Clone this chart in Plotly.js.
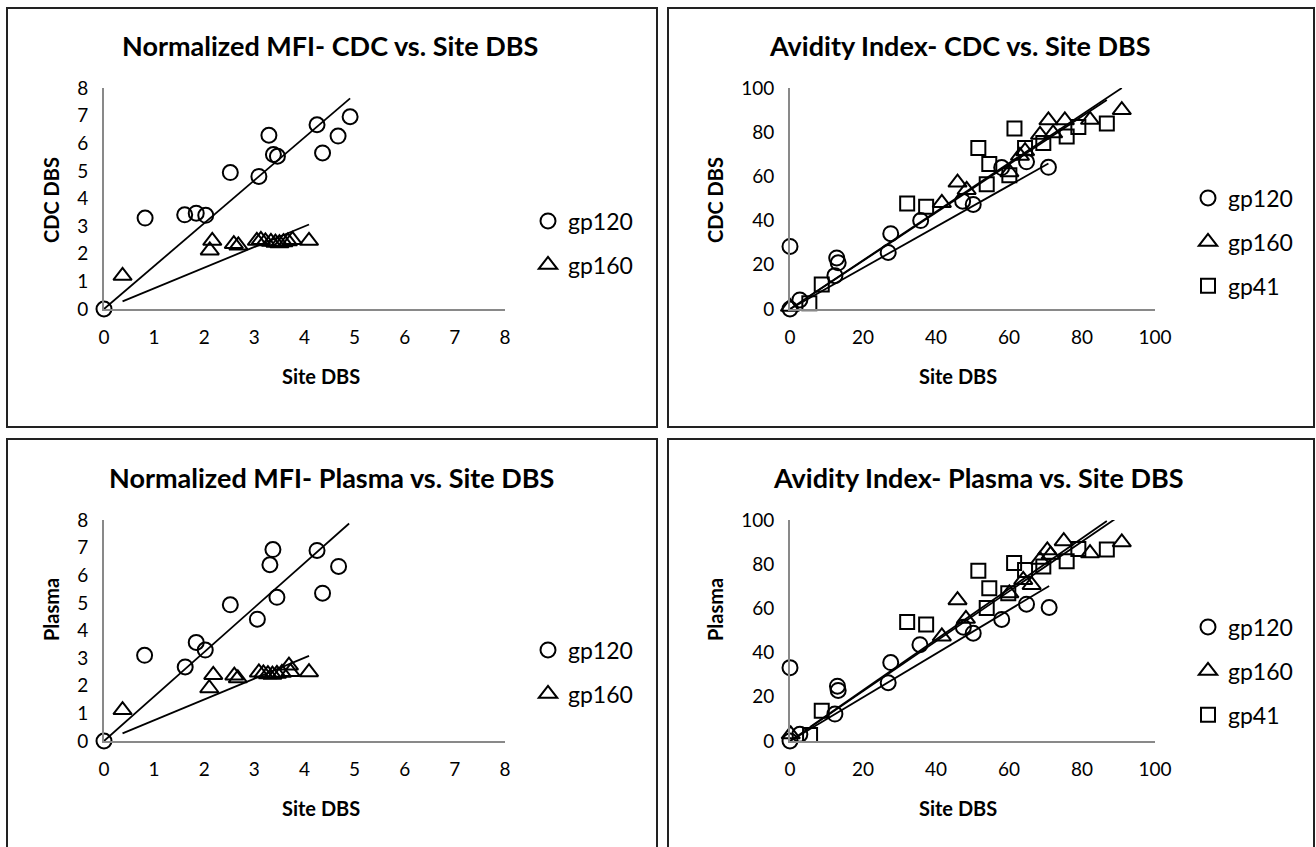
<!DOCTYPE html>
<html>
<head>
<meta charset="utf-8">
<script src="https://cdn.plot.ly/plotly-3.0.1.min.js"></script>
<style>
html,body{margin:0;padding:0;background:#fff;}
#chart{width:1316px;height:847px;}
</style>
</head>
<body>
<div id="chart"></div>
<script>
// ---------- Data ----------
// Panel 1: Normalized MFI - CDC vs. Site DBS
const mfiCdcGp120X = [0, 0.82, 1.61, 1.84, 2.03, 2.52, 3.09, 3.29, 3.38, 3.46, 4.25, 4.36, 4.67, 4.91];
const mfiCdcGp120Y = [0, 3.29, 3.41, 3.47, 3.39, 4.94, 4.80, 6.29, 5.59, 5.53, 6.67, 5.65, 6.26, 6.96];
const mfiCdcGp160X = [0.37, 2.11, 2.16, 2.59, 2.68, 3.05, 3.13, 3.22, 3.33, 3.42, 3.50, 3.58, 3.67, 3.76, 4.09];
const mfiCdcGp160Y = [1.20, 2.12, 2.47, 2.35, 2.30, 2.47, 2.50, 2.45, 2.43, 2.40, 2.38, 2.42, 2.45, 2.50, 2.47];
const mfiCdcFitStart = [0, 0.37];
const mfiCdcFitEnd = [4.91, 4.09];
const mfiCdcFitSlope = [1.553, 0.748];

// Panel 2: Avidity Index - CDC vs. Site DBS
const avCdcGp120X = [0, 0, 2.7, 12.3, 12.8, 13.2, 26.9, 27.6, 35.8, 47.3, 50.2, 58.0, 64.8, 70.8];
const avCdcGp120Y = [28.3, 0, 4.1, 15.1, 23.1, 20.9, 25.6, 34.1, 40.0, 48.8, 47.3, 64.0, 66.6, 64.1];
const avCdcGp160X = [0, 41.6, 45.9, 48.4, 60.1, 63.0, 64.4, 68.5, 70.8, 72.1, 75.3, 82.2, 90.9];
const avCdcGp160Y = [1.0, 48.0, 57.2, 53.9, 61.9, 69.3, 71.4, 78.8, 85.4, 79.5, 85.4, 85.6, 90.0];
const avCdcGp41X = [5.3, 8.7, 32.1, 37.3, 51.6, 54.6, 53.9, 60.1, 61.5, 64.4, 69.4, 75.8, 79.0, 86.8];
const avCdcGp41Y = [2.6, 11.1, 47.7, 46.3, 72.9, 65.6, 56.5, 60.5, 81.7, 72.9, 75.1, 78.0, 82.4, 83.9];
const avCdcFitStart = [0, 0, 5.3];
const avCdcFitEnd = [70.8, 90.9, 86.8];
const avCdcFitSlope = [0.93, 1.10, 1.09];

// Panel 3: Normalized MFI - Plasma vs. Site DBS
const mfiPlGp120X = [0, 0.81, 1.62, 1.84, 2.02, 2.52, 3.06, 3.31, 3.37, 3.45, 4.25, 4.36, 4.68];
const mfiPlGp120Y = [0, 3.10, 2.68, 3.57, 3.29, 4.93, 4.41, 6.38, 6.93, 5.20, 6.90, 5.35, 6.32];
const mfiPlGp160X = [0.37, 2.10, 2.18, 2.60, 2.67, 3.09, 3.18, 3.27, 3.36, 3.45, 3.55, 3.69, 3.72, 4.09];
const mfiPlGp160Y = [1.12, 1.91, 2.39, 2.37, 2.27, 2.48, 2.45, 2.42, 2.40, 2.43, 2.47, 2.73, 2.50, 2.49];
const mfiPlFitStart = [0, 0.37];
const mfiPlFitEnd = [4.89, 4.09];
const mfiPlFitSlope = [1.61, 0.753];

// Panel 4: Avidity Index - Plasma vs. Site DBS
const avPlGp120X = [0, 0, 2.7, 12.3, 13.0, 13.2, 26.9, 27.6, 35.6, 47.5, 50.2, 58.0, 64.8, 71.0];
const avPlGp120Y = [33.2, 0, 3.0, 12.2, 24.8, 22.9, 26.4, 35.5, 43.6, 51.5, 48.8, 55.0, 61.9, 60.4];
const avPlGp160X = [0.2, 41.6, 45.9, 48.2, 60.1, 63.9, 66.2, 68.5, 70.5, 71.4, 75.0, 82.2, 90.9];
const avPlGp160Y = [3.0, 47.3, 63.7, 55.3, 66.8, 72.9, 70.6, 82.0, 86.3, 84.3, 90.4, 85.0, 89.9];
const avPlGp41X = [5.5, 8.7, 32.1, 37.3, 51.6, 54.6, 53.9, 59.8, 61.4, 64.4, 69.4, 75.8, 79.0, 86.8];
const avPlGp41Y = [2.7, 13.7, 53.8, 52.7, 77.0, 69.1, 60.2, 66.8, 80.5, 77.4, 79.0, 81.3, 86.9, 86.6];
const avPlFitStart = [0, 0, 5.5];
const avPlFitEnd = [71.0, 90.9, 86.8];
const avPlFitSlope = [0.988, 1.128, 1.147];

const seriesNames = ['gp120', 'gp160', 'gp41'];
const panelTitles = ['Normalized MFI- CDC vs. Site DBS', 'Avidity Index- CDC vs. Site DBS',
                     'Normalized MFI- Plasma vs. Site DBS', 'Avidity Index- Plasma vs. Site DBS'];
const xTitles = ['Site DBS', 'Site DBS', 'Site DBS', 'Site DBS'];
const yTitles = ['CDC DBS', 'CDC DBS', 'Plasma', 'Plasma'];
const mfiTicks = [0, 1, 2, 3, 4, 5, 6, 7, 8];
const avTicks = [0, 20, 40, 60, 80, 100];

// ---------- Layout helpers ----------
const W = 1316, H = 847;
const px = x => x / W;
const py = y => 1 - y / H;
const FONT = 'Lato, "Open Sans", sans-serif';
const symbols = ['circle-open', 'triangle-up-open', 'square-open'];
const sizes = [15, 16, 14];

const panels = [
  {xa: 'x', ya: 'y', legend: 'legend',
   data: [[mfiCdcGp120X, mfiCdcGp120Y], [mfiCdcGp160X, mfiCdcGp160Y]],
   fit: [mfiCdcFitStart, mfiCdcFitEnd, mfiCdcFitSlope]},
  {xa: 'x2', ya: 'y2', legend: 'legend2',
   data: [[avCdcGp120X, avCdcGp120Y], [avCdcGp160X, avCdcGp160Y], [avCdcGp41X, avCdcGp41Y]],
   fit: [avCdcFitStart, avCdcFitEnd, avCdcFitSlope]},
  {xa: 'x3', ya: 'y3', legend: 'legend3',
   data: [[mfiPlGp120X, mfiPlGp120Y], [mfiPlGp160X, mfiPlGp160Y]],
   fit: [mfiPlFitStart, mfiPlFitEnd, mfiPlFitSlope]},
  {xa: 'x4', ya: 'y4', legend: 'legend4',
   data: [[avPlGp120X, avPlGp120Y], [avPlGp160X, avPlGp160Y], [avPlGp41X, avPlGp41Y]],
   fit: [avPlFitStart, avPlFitEnd, avPlFitSlope]}
];

const traces = [];
panels.forEach((p, pi) => {
  p.data.forEach((d, si) => {
    traces.push({
      type: 'scatter', mode: 'markers', x: d[0], y: d[1],
      xaxis: p.xa, yaxis: p.ya, name: seriesNames[si],
      legend: p.legend, legendgroup: 'p' + pi + 's' + si, showlegend: true,
      cliponaxis: false,
      marker: {symbol: symbols[si], size: sizes[si], color: '#000', line: {color: '#000', width: 2}},
      hoverinfo: 'x+y'
    });
  });
  p.data.forEach((d, si) => {
    const x0 = p.fit[0][si], x1 = p.fit[1][si], k = p.fit[2][si];
    traces.push({
      type: 'scatter', mode: 'lines', x: [x0, x1], y: [k * x0, k * x1],
      xaxis: p.xa, yaxis: p.ya, showlegend: false, hoverinfo: 'skip',
      line: {color: '#000', width: 1.8}
    });
  });
});

function axis(domain, range, ticks) {
  return {
    domain: domain, range: range, tickvals: ticks, ticktext: ticks.map(String),
    showgrid: false, zeroline: false, showline: true, linecolor: '#898989', linewidth: 2,
    ticks: 'outside', ticklen: 10, tickcolor: 'rgba(0,0,0,0)',
    tickfont: {family: FONT, size: 19, color: '#000'}, fixedrange: true
  };
}

const xL = [px(104), px(505)], xR = [px(790), px(1155)];
const yT = [py(309), py(88)], yB = [py(741), py(520)];

function legendAt(xPix, yPix) {
  return {x: px(xPix), xanchor: 'left', y: py(yPix), yanchor: 'middle',
          bgcolor: 'rgba(0,0,0,0)', borderwidth: 0, tracegroupgap: 11,
          font: {family: FONT, size: 23, color: '#000'}, itemclick: false, itemdoubleclick: false};
}

const boxes = [[7, 8, 657, 427], [668, 8, 1314, 427], [7, 439, 657, 870], [668, 439, 1314, 870]];
const shapes = boxes.map(b => ({type: 'rect', xref: 'paper', yref: 'paper',
  x0: px(b[0]), x1: px(b[2]), y0: py(b[3]), y1: py(b[1]),
  line: {color: '#222', width: 2}, fillcolor: 'rgba(0,0,0,0)', layer: 'below'}));

const titlePos = [[330, 45], [960, 45], [331, 477], [978, 477]];
const xTitlePos = [[321, 376], [958, 376], [321, 808], [958, 808]];
const yTitlePos = [[51, 200], [715, 200], [51, 610], [715, 610]];
const annotations = [];
for (let i = 0; i < 4; i++) {
  annotations.push({xref: 'paper', yref: 'paper', x: px(titlePos[i][0]), y: py(titlePos[i][1]),
    xanchor: 'center', yanchor: 'middle', showarrow: false, text: '<b>' + panelTitles[i] + '</b>',
    font: {family: FONT, size: 27, color: '#000'}});
  annotations.push({xref: 'paper', yref: 'paper', x: px(xTitlePos[i][0]), y: py(xTitlePos[i][1]),
    xanchor: 'center', yanchor: 'middle', showarrow: false, text: '<b>' + xTitles[i] + '</b>',
    font: {family: FONT, size: 20, color: '#000'}});
  annotations.push({xref: 'paper', yref: 'paper', x: px(yTitlePos[i][0]), y: py(yTitlePos[i][1]),
    xanchor: 'center', yanchor: 'middle', showarrow: false, textangle: -90, text: '<b>' + yTitles[i] + '</b>',
    font: {family: FONT, size: 20, color: '#000'}});
}

const layout = {
  width: W, height: H, margin: {l: 0, r: 0, t: 0, b: 0},
  paper_bgcolor: '#fff', plot_bgcolor: 'rgba(0,0,0,0)',
  font: {family: FONT, color: '#000'},
  showlegend: true,
  xaxis: axis(xL, [0, 8], mfiTicks), yaxis: axis(yT, [0, 8], mfiTicks),
  xaxis2: axis(xR, [0, 100], avTicks), yaxis2: axis(yT, [0, 100], avTicks),
  xaxis3: axis(xL, [0, 8], mfiTicks), yaxis3: axis(yB, [0, 8], mfiTicks),
  xaxis4: axis(xR, [0, 100], avTicks), yaxis4: axis(yB, [0, 100], avTicks),
  legend: legendAt(528, 243), legend2: legendAt(1188, 242),
  legend3: legendAt(528, 672), legend4: legendAt(1188, 671),
  shapes: shapes, annotations: annotations
};
['xaxis', 'yaxis', 'xaxis2', 'yaxis2', 'xaxis3', 'yaxis3', 'xaxis4', 'yaxis4'].forEach((a, i) => {
  const n = Math.floor(i / 2) + 1;
  if (a.startsWith('x')) layout[a].anchor = n === 1 ? 'y' : 'y' + n;
  else layout[a].anchor = n === 1 ? 'x' : 'x' + n;
});

Plotly.newPlot('chart', traces, layout, {staticPlot: false, displayModeBar: false, responsive: false});
</script>
</body>
</html>
